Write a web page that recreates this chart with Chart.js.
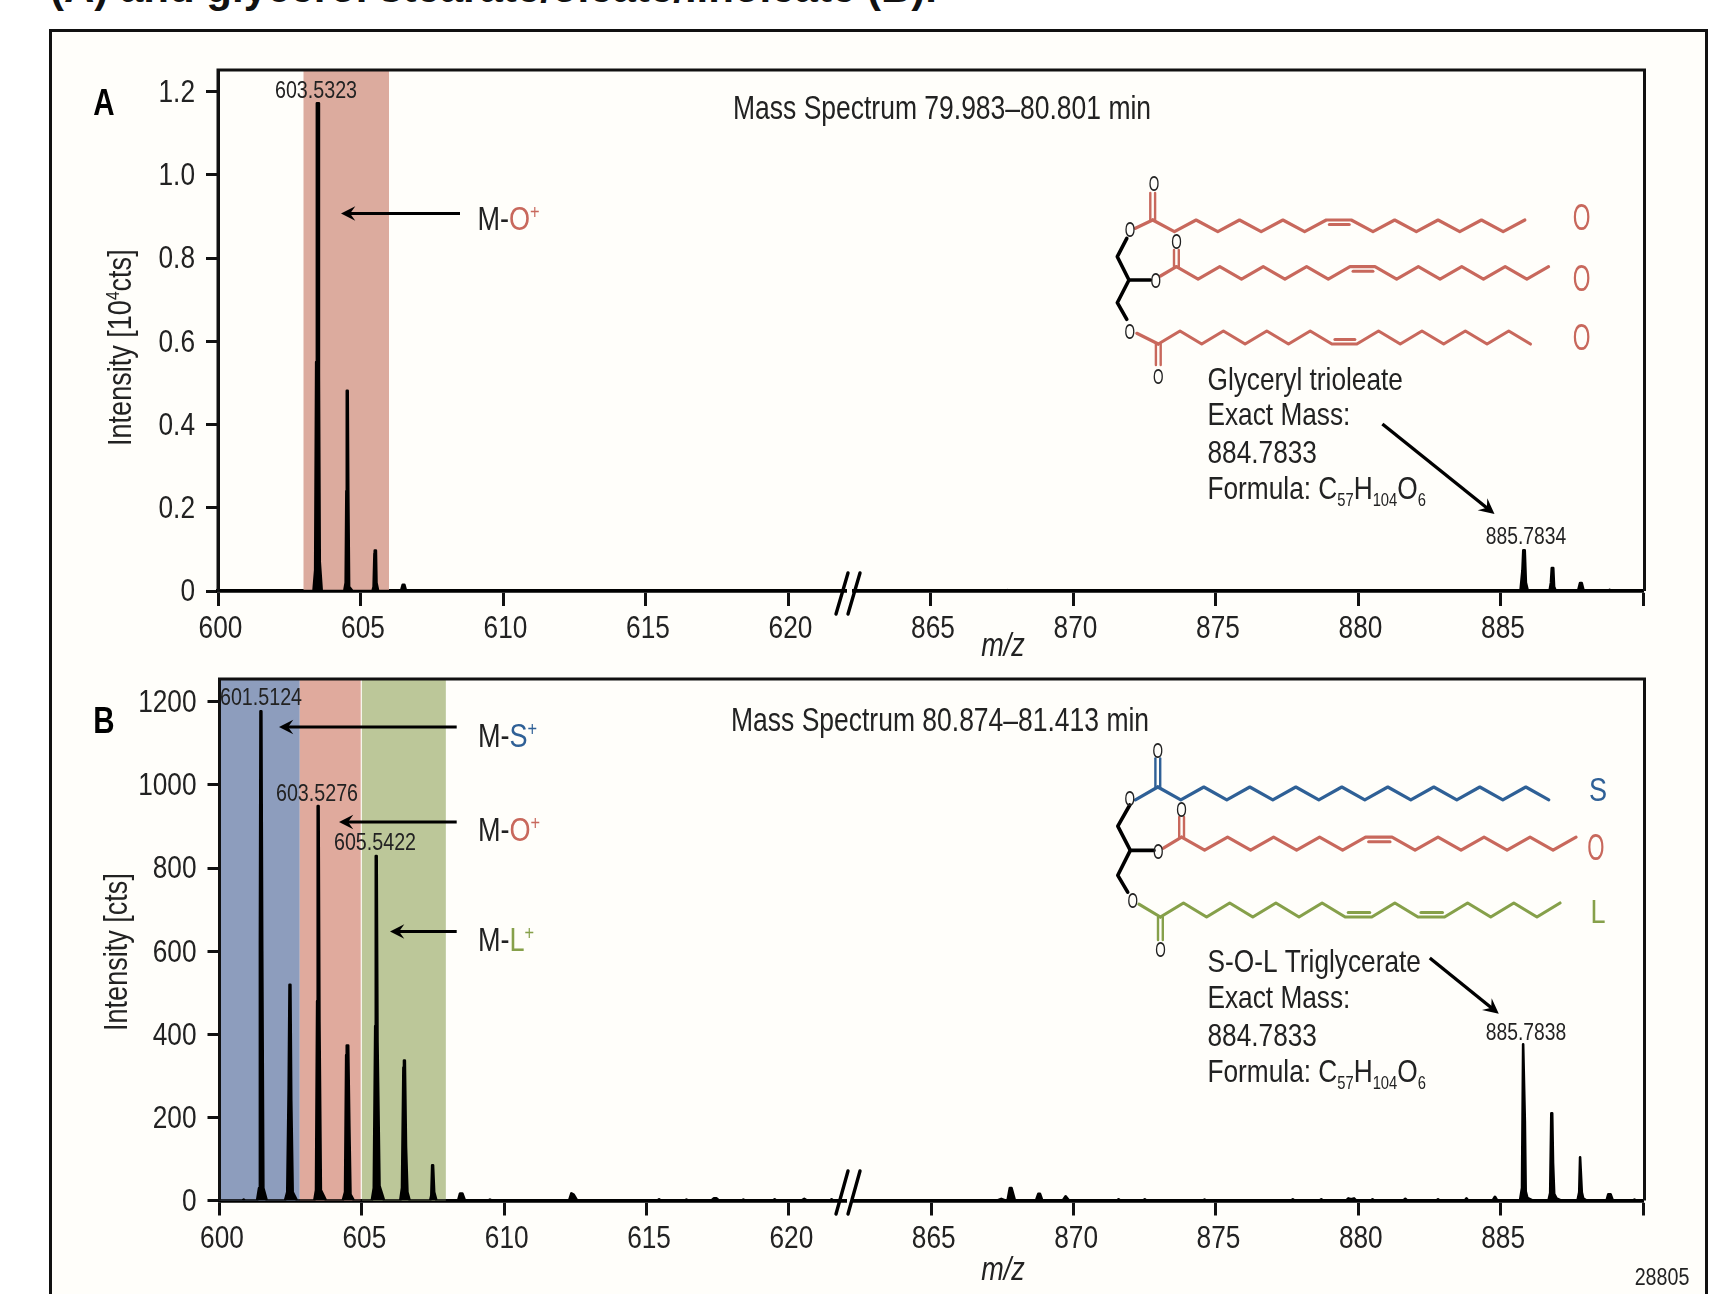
<!DOCTYPE html>
<html>
<head>
<meta charset="utf-8">
<title>Mass spectra</title>
<style>
  html, body { margin: 0; padding: 0; background: #fff; }
  #page { position: relative; width: 1736px; height: 1294px; overflow: hidden; background: #fff; }
  #heading {
    position: absolute; left: 50px; top: -36px; white-space: nowrap;
    font: bold 42px "Liberation Sans", Arial, sans-serif; color: #111;
  }
  #frame {
    position: absolute; left: 49px; top: 29px; width: 1653px; height: 1300px;
    border: 3.5px solid #111; background: #fffefa;
  }
  canvas { position: absolute; }
</style>
</head>
<body>
<div id="page">
  <div id="heading">(A) and glycerol stearate/oleate/linoleate (B).</div>
  <div id="frame"></div>
  <canvas id="panelA" width="1650" height="630" style="left:54px;top:34px"></canvas>
  <canvas id="panelB" width="1650" height="654" style="left:54px;top:640px"></canvas>
</div>
<script src="https://cdn.jsdelivr.net/npm/chart.js@4"></script>
<script>
"use strict";

const FONT = '"Liberation Sans", Arial, sans-serif';
const NARROW = 0.82; // no condensed face installed, so squeeze the glyphs
const RED = '#c8685c';
const BLUE = '#2f6096';
const GREEN = '#86a04a';
const INK = '#222';

// x axis is broken: 10 equal ticks, 600..620 then 865..890
const xTickLabels = ['600', '605', '610', '615', '620', '865', '870', '875', '880', '885', ''];
const BREAK_SHIFT = 240;

const yTicksA = ['0', '0.2', '0.4', '0.6', '0.8', '1.0', '1.2'];
const yTicksB = ['0', '200', '400', '600', '800', '1000', '1200'];

// Panel A spectrum, m/z and intensity [10^4 cts]
const mzA = [
  600,
  603.35, 603.41, 603.445, 603.47, 603.51, 603.54, 603.57, 603.64,
  604.43, 604.48, 604.505, 604.52, 604.55, 604.57, 604.6, 604.72,
  605.42, 605.46, 605.49, 605.5, 605.54, 605.56, 605.62,
  606.42, 606.48, 606.54, 606.6,
  867.6, 867.7, 867.8,
  885.7, 885.77, 885.8, 885.85, 885.89, 885.96,
  886.72, 886.77, 886.8, 886.85, 886.88, 886.94,
  887.72, 887.79, 887.85, 887.92,
  888.76, 888.83, 888.9,
  890
];
const intensityA = [
  0,
  0, 0.05, 0.55, 1.172, 1.172, 0.52, 0.07, 0,
  0, 0.02, 0.24, 0.481, 0.481, 0.24, 0.01, 0,
  0, 0.01, 0.09, 0.097, 0.097, 0.02, 0,
  0, 0.015, 0.015, 0,
  0, 0.002, 0,
  0, 0.05, 0.098, 0.098, 0.02, 0,
  0, 0.02, 0.055, 0.055, 0.01, 0,
  0, 0.019, 0.019, 0,
  0, 0.003, 0,
  0
];

// Panel B spectrum, m/z and intensity [cts]
const mzB = [
  600, 600.8, 600.85, 600.9,
  601.32, 601.39, 601.42, 601.44, 601.47, 601.5, 601.54, 601.66,
  602.3, 602.38, 602.43, 602.46, 602.49, 602.52, 602.57, 602.72,
  603.33, 603.39, 603.43, 603.45, 603.48, 603.51, 603.56, 603.74,
  604.33, 604.41, 604.45, 604.47, 604.52, 604.56, 604.6, 604.72,
  605.35, 605.42, 605.47, 605.49, 605.52, 605.55, 605.62, 605.78,
  606.35, 606.41, 606.46, 606.48, 606.51, 606.55, 606.6, 606.68,
  607.4, 607.44, 607.47, 607.5, 607.54, 607.62,
  608.38, 608.45, 608.53, 608.62,
  609.44, 609.5, 609.56,
  612.28, 612.36, 612.44, 612.56,
  615.38, 615.44, 615.5,
  616.34, 616.4, 616.46,
  617.28, 617.36, 617.46, 617.54,
  618.34, 618.4, 618.46,
  619.44, 619.5, 619.56,
  620.44, 620.54, 620.64,
  621.44, 621.5, 621.56,
  867.32, 867.46, 867.6, 867.68, 867.76, 867.82, 867.94,
  868.68, 868.76, 868.82, 868.9,
  869.62, 869.72, 869.84,
  871.52, 871.58, 871.64,
  872.44, 872.5, 872.56,
  874.54, 874.6, 874.66,
  877.64, 877.7, 877.76,
  878.64, 878.7, 878.76,
  879.58, 879.65, 879.75, 879.85, 879.92,
  880.44, 880.5, 880.56,
  881.58, 881.65, 881.72,
  882.74, 882.8, 882.86,
  883.74, 883.8, 883.86,
  884.72, 884.8, 884.88,
  885.68, 885.75, 885.79, 885.81, 885.85, 885.88, 885.94, 886.12,
  886.68, 886.74, 886.78, 886.81, 886.84, 886.88, 886.96, 887.12,
  887.7, 887.76, 887.79, 887.82, 887.85, 887.9, 888.02,
  888.72, 888.78, 888.86, 888.94,
  889.64, 889.7, 889.76,
  890
];
const intensityB = [
  0, 0, 2, 0,
  0, 30, 620, 1177, 1177, 600, 30, 0,
  0, 20, 270, 519, 519, 240, 20, 0,
  0, 25, 480, 949, 949, 430, 25, 0,
  0, 20, 350, 373, 373, 180, 15, 0,
  0, 30, 420, 829, 829, 380, 35, 0,
  0, 30, 320, 337, 337, 130, 20, 0,
  0, 12, 85, 85, 20, 0,
  0, 17, 17, 0,
  0, 2, 0,
  0, 17, 14, 0,
  0, 3, 0,
  0, 2, 0,
  0, 5, 5, 0,
  0, 2, 0,
  0, 3, 0,
  0, 4, 0,
  0, 3, 0,
  0, 4, 0, 0, 30, 30, 0,
  0, 16, 16, 0,
  0, 10, 0,
  0, 3, 0,
  0, 3, 0,
  0, 2, 0,
  0, 3, 0,
  0, 3, 0,
  0, 5, 3, 5, 0,
  0, 3, 0,
  0, 4, 0,
  0, 3, 0,
  0, 5, 0,
  0, 9, 0,
  0, 30, 376, 376, 190, 22, 6, 0,
  0, 18, 210, 210, 90, 16, 5, 0,
  0, 20, 104, 104, 20, 5, 0,
  0, 15, 15, 0,
  0, 2, 0,
  0
];

// Shaded m/z windows behind the peaks
const bandStartA = [603];
const bandEndA = [606];
const bandColorA = ['#dcab9e'];
const bandStartB = [600, 602.82, 605];
const bandEndB = [602.82, 604.96, 607.95];
const bandColorB = ['#8d9dbd', '#e0aa9d', '#bcc799'];

function toAxis(mz) {
  return mz > 700 ? mz - BREAK_SHIFT : mz;
}

function zip(xs, ys) {
  return xs.map((x, i) => ({ x: toAxis(x), y: ys[i] }));
}

function condense(ctx) {
  const fill = ctx.fillText;
  ctx.fillText = function (text, x, y) {
    this.save();
    this.translate(x, y);
    this.scale(NARROW, 1);
    fill.call(this, text, 0, 0);
    this.restore();
  };
}

function textRun(ctx, x, y, runs) {
  // runs: [text, color, size, raise]
  ctx.textAlign = 'left';
  runs.forEach(r => {
    ctx.font = r[2] + 'px ' + FONT;
    ctx.fillStyle = r[1];
    ctx.fillText(r[0], x, y - (r[3] || 0));
    x += ctx.measureText(r[0]).width * NARROW;
  });
}

function label(ctx, text, x, y, size, align, color) {
  ctx.font = size + 'px ' + FONT;
  ctx.fillStyle = color || INK;
  ctx.textAlign = align || 'left';
  ctx.fillText(text, x, y);
  ctx.textAlign = 'left';
}

function styled(ctx, font, text, x, y, color) {
  ctx.font = font + ' ' + FONT;
  ctx.fillStyle = color;
  ctx.textAlign = 'center';
  ctx.fillText(text, x, y);
  ctx.textAlign = 'left';
}

// Tall thin O as in the condensed original
function thinO(ctx, x, y, size, color) {
  ctx.save();
  ctx.translate(x, y);
  ctx.scale(0.75, 1);
  label(ctx, 'O', 0, 0, size, 'center', color);
  ctx.restore();
}

function arrow(ctx, x1, y1, x2, y2, width, head) {
  const a = Math.atan2(y2 - y1, x2 - x1);
  const cos = Math.cos(a), sin = Math.sin(a);
  ctx.strokeStyle = '#000';
  ctx.fillStyle = '#000';
  ctx.lineWidth = width;
  ctx.beginPath();
  ctx.moveTo(x1, y1);
  ctx.lineTo(x2 - cos * head * 0.6, y2 - sin * head * 0.6);
  ctx.stroke();
  ctx.beginPath();
  ctx.moveTo(x2, y2);
  ctx.lineTo(x2 - cos * head * 1.1 + sin * head * 0.55, y2 - sin * head * 1.1 - cos * head * 0.55);
  ctx.lineTo(x2 - cos * head * 0.7, y2 - sin * head * 0.7);
  ctx.lineTo(x2 - cos * head * 1.1 - sin * head * 0.55, y2 - sin * head * 1.1 + cos * head * 0.55);
  ctx.closePath();
  ctx.fill();
}

function poly(ctx, pts, color, width) {
  ctx.strokeStyle = color;
  ctx.lineWidth = width;
  ctx.lineJoin = 'round';
  ctx.lineCap = 'round';
  ctx.beginPath();
  pts.forEach((p, i) => (i ? ctx.lineTo(p[0], p[1]) : ctx.moveTo(p[0], p[1])));
  ctx.stroke();
  ctx.lineCap = 'butt';
}

// Fatty acid tail: d = down, u = up, '=' = flat double bond
function chain(ctx, x, y, steps, dx, dy, color) {
  const pts = [[x, y]];
  const inner = [];
  let last = 'u';
  for (const s of steps) {
    if (s === '=') {
      const w = dx * 1.15;
      const off = last === 'u' ? 4.5 : -4.5;
      inner.push([[x + 3, y + off], [x + w - 2, y + off]]);
      x += w;
    } else {
      x += dx;
      y += s === 'd' ? dy : -dy;
      last = s;
    }
    pts.push([x, y]);
  }
  poly(ctx, pts, color, 3.2);
  inner.forEach(seg => poly(ctx, seg, color, 3));
}

function carbonyl(ctx, x, y1, y2, color) {
  poly(ctx, [[x - 2.4, y1], [x - 2.4, y2]], color, 2.4);
  poly(ctx, [[x + 2.4, y1], [x + 2.4, y2]], color, 2.4);
}

function oxygen(ctx, x, y) {
  thinO(ctx, x, y + 8, 22, '#222');
}

function formulaBlock(ctx, lines, baselines) {
  const x = 1207.5;
  label(ctx, lines[0], x, baselines[0], 32);
  label(ctx, lines[1], x, baselines[1], 32);
  label(ctx, lines[2], x, baselines[2], 32);
  textRun(ctx, x, baselines[3], [
    ['Formula: C', INK, 32], ['57', INK, 18, -7], ['H', INK, 32], ['104', INK, 18, -7], ['O', INK, 32], ['6', INK, 18, -7]
  ]);
}

function breakMark(ctx, y1, y2, axisY) {
  ctx.fillStyle = '#fffefa';
  ctx.fillRect(847, axisY - 3, 5, 6);
  poly(ctx, [[836, y2], [848, y1]], '#000', 3.4);
  poly(ctx, [[848, y2], [860, y1]], '#000', 3.4);
}

function plotBox(ctx, chart) {
  const a = chart.chartArea;
  ctx.strokeStyle = '#111';
  ctx.lineWidth = 3;
  ctx.beginPath();
  ctx.moveTo(a.left, a.bottom);
  ctx.lineTo(a.left, a.top);
  ctx.lineTo(a.right + 1.5, a.top);
  ctx.lineTo(a.right + 1.5, a.bottom);
  ctx.stroke();
}

function overlayA(ctx) {
  styled(ctx, 'bold 36px', 'A', 104, 114.5, '#000');

  label(ctx, 'Mass Spectrum 79.983–80.801 min', 733, 119, 32.3);
  label(ctx, '603.5323', 316, 98, 24, 'center');
  label(ctx, '885.7834', 1526, 544, 23.5, 'center');

  arrow(ctx, 460, 213.5, 341, 213.5, 3, 13);
  textRun(ctx, 477.5, 229.5, [['M-', INK, 33], ['O', RED, 33], ['+', RED, 20, 11]]);

  poly(ctx, [[1126.8, 238.3], [1117.3, 256.7], [1129, 280], [1150.5, 280]], '#000', 3.6);
  poly(ctx, [[1129, 280], [1117.3, 302.7], [1126.8, 319.3]], '#000', 3.6);

  poly(ctx, [[1135.4, 228.3], [1152.7, 220]], RED, 3.2);
  chain(ctx, 1152.7, 220, 'dudududu=dudududu', 21.7, 11.7, RED);
  carbonyl(ctx, 1152.7, 220, 193, RED);
  oxygen(ctx, 1154, 183);
  oxygen(ctx, 1130, 229);

  poly(ctx, [[1160.5, 276], [1176.4, 266.7]], RED, 3.2);
  chain(ctx, 1176.4, 266.7, 'dudududu=dudududu', 21.7, 12.5, RED);
  carbonyl(ctx, 1176.4, 266.7, 250, RED);
  oxygen(ctx, 1176.4, 241);
  oxygen(ctx, 1155.7, 280);

  poly(ctx, [[1136.8, 333.3], [1158.3, 344]], RED, 3.2);
  chain(ctx, 1158.3, 344, 'udududud=udududud', 21.7, 13, RED);
  carbonyl(ctx, 1158.3, 344, 365, RED);
  oxygen(ctx, 1158.3, 376);
  oxygen(ctx, 1129.8, 331);

  thinO(ctx, 1581.5, 230, 37, RED);
  thinO(ctx, 1581.5, 290.5, 37, RED);
  thinO(ctx, 1581.5, 350, 37, RED);

  formulaBlock(ctx, ['Glyceryl trioleate', 'Exact Mass:', '884.7833'], [390, 425, 463, 499]);
  arrow(ctx, 1382.4, 424, 1494.5, 514, 3.4, 14);

  breakMark(ctx, 573, 614, 591);

  styled(ctx, 'italic 33px', 'm/z', 1003, 656, INK);

  ctx.save();
  ctx.translate(131, 446);
  ctx.rotate(-Math.PI / 2);
  textRun(ctx, 0, 0, [['Intensity [10', INK, 33], ['4', INK, 19, 12], ['cts]', INK, 33]]);
  ctx.restore();
}

function overlayB(ctx) {
  styled(ctx, 'bold 36px', 'B', 104, 733, '#000');

  label(ctx, 'Mass Spectrum 80.874–81.413 min', 731, 731, 32.3);
  label(ctx, '601.5124', 261, 704.5, 24, 'center');
  label(ctx, '603.5276', 317, 801, 24, 'center');
  label(ctx, '605.5422', 375, 850, 24, 'center');
  label(ctx, '885.7838', 1526, 1040, 23.5, 'center');

  arrow(ctx, 456.7, 727, 279, 727, 3, 13);
  arrow(ctx, 456.7, 822, 339, 822, 3, 13);
  arrow(ctx, 456.7, 931.5, 390, 931.5, 3, 13);
  textRun(ctx, 478, 747, [['M-', INK, 33], ['S', BLUE, 33], ['+', BLUE, 20, 11]]);
  textRun(ctx, 478, 841, [['M-', INK, 33], ['O', RED, 33], ['+', RED, 20, 11]]);
  textRun(ctx, 478, 951, [['M-', INK, 33], ['L', GREEN, 33], ['+', GREEN, 20, 11]]);

  poly(ctx, [[1129.8, 805], [1117.8, 826.2], [1130.3, 850.4], [1154, 850.4]], '#000', 3.6);
  poly(ctx, [[1130.3, 850.4], [1117.8, 875.3], [1127.7, 892.2]], '#000', 3.6);

  poly(ctx, [[1135.4, 799.9], [1157.8, 787]], BLUE, 3.2);
  chain(ctx, 1157.8, 787, 'dudududududududud', 23, 12.8, BLUE);
  carbonyl(ctx, 1157.8, 787, 758.5, BLUE);
  oxygen(ctx, 1157.8, 749.5);
  oxygen(ctx, 1129.8, 798);

  poly(ctx, [[1163.4, 848.2], [1181.6, 837.2]], RED, 3.2);
  chain(ctx, 1181.6, 837.2, 'dudududu=dudududu', 23, 13, RED);
  carbonyl(ctx, 1181.6, 837.2, 817, RED);
  oxygen(ctx, 1181.6, 809);
  oxygen(ctx, 1158.3, 851);

  poly(ctx, [[1138.9, 904.2], [1160.4, 917]], GREEN, 3.2);
  chain(ctx, 1160.4, 917, 'udududud=ud=ududu', 23.1, 14, GREEN);
  carbonyl(ctx, 1160.4, 917, 940, GREEN);
  oxygen(ctx, 1160.4, 949);
  oxygen(ctx, 1132.8, 900);

  label(ctx, 'S', 1598, 801, 33, 'center', BLUE);
  thinO(ctx, 1595.8, 860, 36, RED);
  label(ctx, 'L', 1598, 922.5, 33, 'center', GREEN);

  formulaBlock(ctx, ['S-O-L Triglycerate', 'Exact Mass:', '884.7833'], [972.2, 1007.5, 1046, 1082]);
  arrow(ctx, 1429.8, 958, 1498.8, 1013.8, 3.4, 14);

  breakMark(ctx, 1171, 1214, 1200.5);

  styled(ctx, 'italic 33px', 'm/z', 1003, 1280, INK);

  label(ctx, '28805', 1662, 1285, 24, 'center');

  ctx.save();
  ctx.translate(127, 1031);
  ctx.rotate(-Math.PI / 2);
  label(ctx, 'Intensity [cts]', 0, 0, 33);
  ctx.restore();
}

function makePanel(id, cfg) {
  const canvas = document.getElementById(id);
  const left = parseFloat(canvas.style.left);
  const top = parseFloat(canvas.style.top);
  condense(canvas.getContext('2d'));

  const bands = {
    id: 'bands',
    beforeDatasetsDraw(chart) {
      const { ctx, chartArea: a, scales: { x } } = chart;
      cfg.bandStart.forEach((s, i) => {
        const x1 = x.getPixelForValue(s);
        const x2 = x.getPixelForValue(cfg.bandEnd[i]);
        ctx.fillStyle = cfg.bandColor[i];
        ctx.fillRect(x1, a.top, x2 - x1, a.bottom - a.top);
      });
    },
  };

  const overlay = {
    id: 'overlay',
    afterDraw(chart) {
      const ctx = chart.ctx;
      ctx.save();
      plotBox(ctx, chart);
      ctx.translate(-left, -top);
      ctx.textBaseline = 'alphabetic';
      cfg.draw(ctx);
      ctx.restore();
    },
  };

  return new Chart(canvas, {
    type: 'line',
    data: {
      datasets: [{
        data: zip(cfg.mz, cfg.intensity),
        borderColor: '#000',
        backgroundColor: '#000',
        borderWidth: 2.6,
        borderJoinStyle: 'round',
        pointRadius: 0,
        tension: 0,
        fill: 'origin',
      }],
    },
    plugins: [bands, overlay],
    options: {
      responsive: false,
      animation: false,
      events: [],
      layout: { padding: { top: cfg.plotTop - top, right: left + canvas.width - 1643, left: 0, bottom: 0 } },
      plugins: { legend: { display: false }, tooltip: { enabled: false } },
      scales: {
        x: {
          type: 'linear',
          min: 600,
          max: 650,
          afterFit(scale) { scale.height = top + canvas.height - cfg.plotBottom; },
          grid: { drawOnChartArea: false, color: '#111', tickLength: 15, tickWidth: 3 },
          border: { color: '#000', width: 3.8 },
          ticks: {
            stepSize: 5,
            maxRotation: 0,
            autoSkip: false,
            padding: 4,
            labelOffset: 2.5,
            color: INK,
            font: { family: FONT, size: 32 },
            callback: (v) => xTickLabels[Math.round((v - 600) / 5)],
          },
        },
        y: {
          min: 0,
          max: cfg.yMax,
          afterFit(scale) { scale.width = cfg.plotLeft - left; },
          grid: { drawOnChartArea: false, color: '#111', tickLength: 12, tickWidth: 3 },
          border: { color: '#111', width: 3 },
          ticks: {
            stepSize: cfg.yStep,
            includeBounds: false,
            padding: 11,
            labelOffset: 1.5,
            color: INK,
            font: { family: FONT, size: 32 },
            callback: (v) => cfg.yTicks[Math.round(v / cfg.yStep)],
          },
        },
      },
    },
  });
}

makePanel('panelA', {
  mz: mzA, intensity: intensityA,
  bandStart: bandStartA, bandEnd: bandEndA, bandColor: bandColorA,
  yTicks: yTicksA, yStep: 0.2, yMax: 1.252,
  plotLeft: 218, plotTop: 70, plotBottom: 591,
  draw: overlayA,
});

makePanel('panelB', {
  mz: mzB, intensity: intensityB,
  bandStart: bandStartB, bandEnd: bandEndB, bandColor: bandColorB,
  yTicks: yTicksB, yStep: 200, yMax: 1255,
  plotLeft: 219.5, plotTop: 679, plotBottom: 1200.5,
  draw: overlayB,
});
</script>
</body>
</html>
